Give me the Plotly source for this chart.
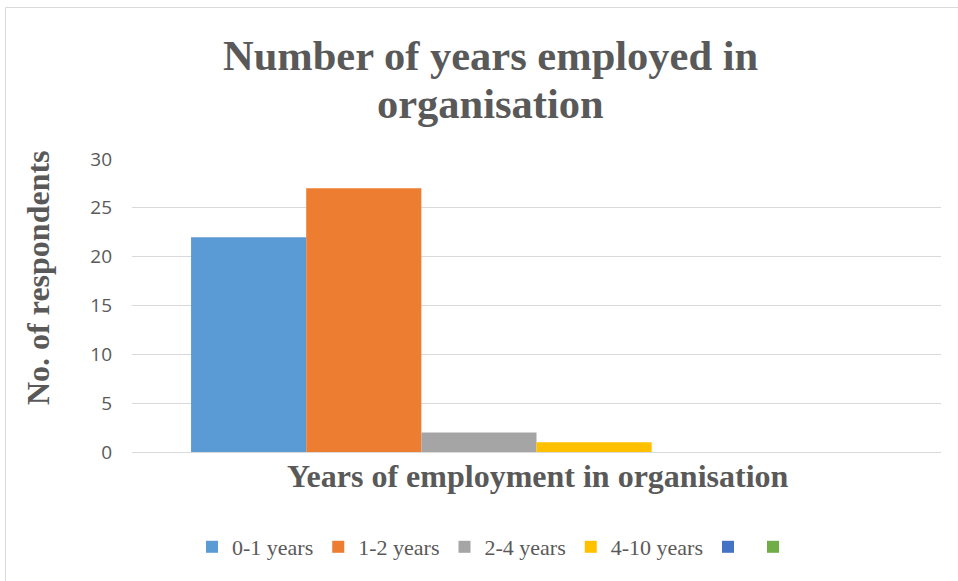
import plotly.graph_objects as go

categories = ["0-1 years", "1-2 years", "2-4 years", "4-10 years", "", ""]
values = [22, 27, 2, 1, 0, 0]
colors = ["#5b9bd5", "#ed7d31", "#a5a5a5", "#ffc000", "#4472c4", "#70ad47"]
y_ticks = [0, 5, 10, 15, 20, 25, 30]

W, H = 958, 581
L, R, T, B = 132, 17, 159, 129
pw, ph = W - L - R, H - T - B

def px_x(x):
    return (x - L) / pw

def px_y(y):
    return (H - B - y) / ph

fig = go.Figure()
for name, v, c in zip(categories, values, colors):
    fig.add_trace(go.Bar(
        x=["Years"], y=[v], name=name,
        marker=dict(color=c, line=dict(width=0)),
    ))

grey = "#595959"
fig.update_layout(
    width=W, height=H,
    margin=dict(l=L, r=R, t=T, b=B),
    paper_bgcolor="white", plot_bgcolor="white",
    barmode="group", bargap=0.146, bargroupgap=0,
    showlegend=True,
    legend=dict(
        orientation="h", x=px_x(192), xanchor="left",
        y=px_y(547), yanchor="middle",
        font=dict(family="Liberation Serif", size=22, color=grey),
        itemwidth=30, traceorder="normal",
    ),
    xaxis=dict(
        showticklabels=False, showgrid=False, zeroline=False,
        showline=False, ticks="",
    ),
    yaxis=dict(
        range=[0, 30], tickvals=y_ticks,
        tickfont=dict(family="Open Sans", size=19, color=grey),
        gridcolor="#d9d9d9", gridwidth=1, zeroline=True,
        zerolinecolor="#d9d9d9", zerolinewidth=1,
        showline=False, ticks="", ticklabelstandoff=19,
    ),
    font=dict(family="Liberation Serif", color=grey),
)

title_lines = ["Number of years employed in", "organisation"]
for line, yc in zip(title_lines, [55, 103]):
    fig.add_annotation(
        text="<b>" + line + "</b>",
        xref="paper", yref="paper", x=px_x(490), y=px_y(yc),
        xanchor="center", yanchor="middle", showarrow=False,
        font=dict(family="Liberation Serif", size=42.5, color=grey),
    )
fig.add_annotation(
    text="<b>Years of employment in organisation</b>",
    xref="paper", yref="paper", x=px_x(538), y=px_y(476),
    xanchor="center", yanchor="middle", showarrow=False,
    font=dict(family="Liberation Serif", size=32, color=grey),
)
fig.add_annotation(
    text="<b>No. of respondents</b>",
    xref="paper", yref="paper", x=px_x(38), y=px_y(278),
    xanchor="center", yanchor="middle", showarrow=False, textangle=-90,
    font=dict(family="Liberation Serif", size=32, color=grey),
)

fig.add_shape(
    type="rect", xref="paper", yref="paper",
    x0=px_x(5.5), x1=px_x(970), y0=px_y(7.5), y1=px_y(600),
    line=dict(color="#d9d9d9", width=1), fillcolor="rgba(0,0,0,0)",
    layer="below",
)

fig.write_html(
    "out.html",
    config={"displayModeBar": False},
    post_script="document.body.style.margin='0px';",
)
